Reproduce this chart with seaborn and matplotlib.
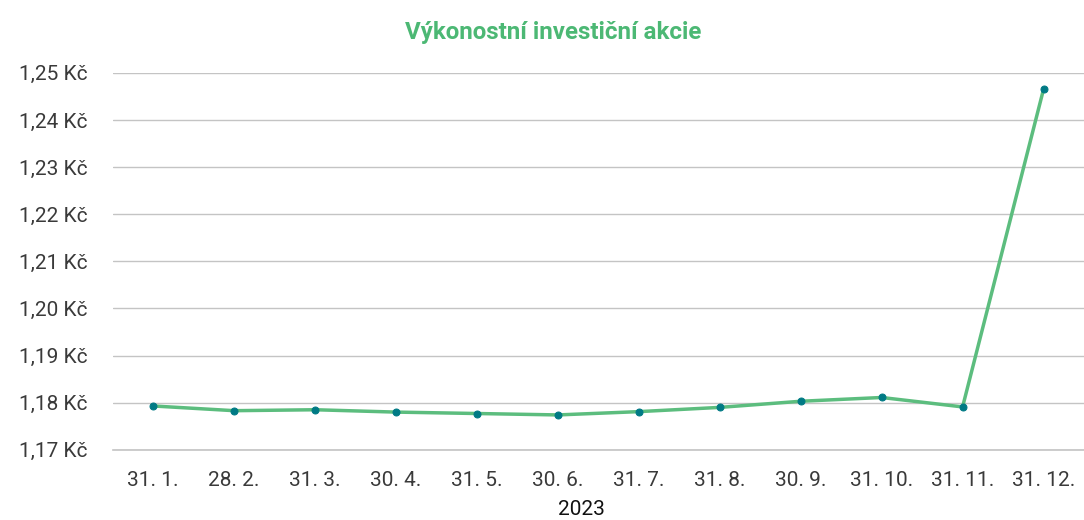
import numpy as np
import pandas as pd
import matplotlib
matplotlib.use("Agg")
import matplotlib.pyplot as plt
import seaborn as sns

# Month-end dates (tick labels) and fund share values in CZK
dates = ['31. 1.', '28. 2.', '31. 3.', '30. 4.', '31. 5.', '30. 6.',
         '31. 7.', '31. 8.', '30. 9.', '31. 10.', '31. 11.', '31. 12.']
values = [1.1793, 1.1783, 1.1785, 1.1780, 1.1777, 1.1774,
          1.1781, 1.1790, 1.1803, 1.1811, 1.1791, 1.2465]
y_ticks = [1.17, 1.18, 1.19, 1.20, 1.21, 1.22, 1.23, 1.24, 1.25]

df = pd.DataFrame({'pos': np.arange(len(dates)), 'value': values})

sns.set_style('white')
plt.rcParams['font.family'] = ['Roboto', 'DejaVu Sans']

fig = plt.figure(figsize=(10.84, 5.2), dpi=100)
ax = fig.add_axes([0.104, 0.135, 0.896, 0.725])

# Line with small teal markers
sns.lineplot(data=df, x='pos', y='value', ax=ax, color='#5cbd7e', linewidth=2.5,
             marker='o', markersize=5, markerfacecolor='#007a85',
             markeredgecolor='#007a85')

ax.set_xlim(-0.5, len(dates) - 0.5)
ax.set_ylim(1.17, 1.25)
ax.set_yticks(y_ticks)
ax.set_yticklabels([f'{v:.2f}'.replace('.', ',') + ' Kč' for v in y_ticks])
ax.set_xticks(df['pos'])
ax.set_xticklabels(dates)
ax.set_xticks(np.arange(-0.5, len(dates)), minor=True)

# Horizontal grid only
ax.grid(axis='y', color='#c4c4c4', linewidth=1)
ax.set_axisbelow(True)
for s in ['top', 'right', 'left']:
    ax.spines[s].set_visible(False)
ax.spines['bottom'].set_color('#c4c4c4')
ax.spines['bottom'].set_linewidth(1.2)

ax.tick_params(axis='x', which='major', length=0, pad=15, labelsize=15, labelcolor='#3a3a3a')
ax.tick_params(axis='x', which='minor', length=8, width=1.2, color='#c4c4c4', direction='out')
ax.tick_params(axis='y', length=0, pad=18, labelsize=15, labelcolor='#3a3a3a')

ax.set_xlabel('')
ax.set_ylabel('')

# Year label placed under the tick labels
fig.text(0.536, 0.02, '2023', ha='center', va='center', fontsize=15, color='#111111')

fig.text(0.51, 0.938, 'Výkonostní investiční akcie', ha='center', va='center',
         fontsize=17.4, fontweight='bold', color='#4cb874')

plt.savefig('out.png', dpi=100)
plt.close()
